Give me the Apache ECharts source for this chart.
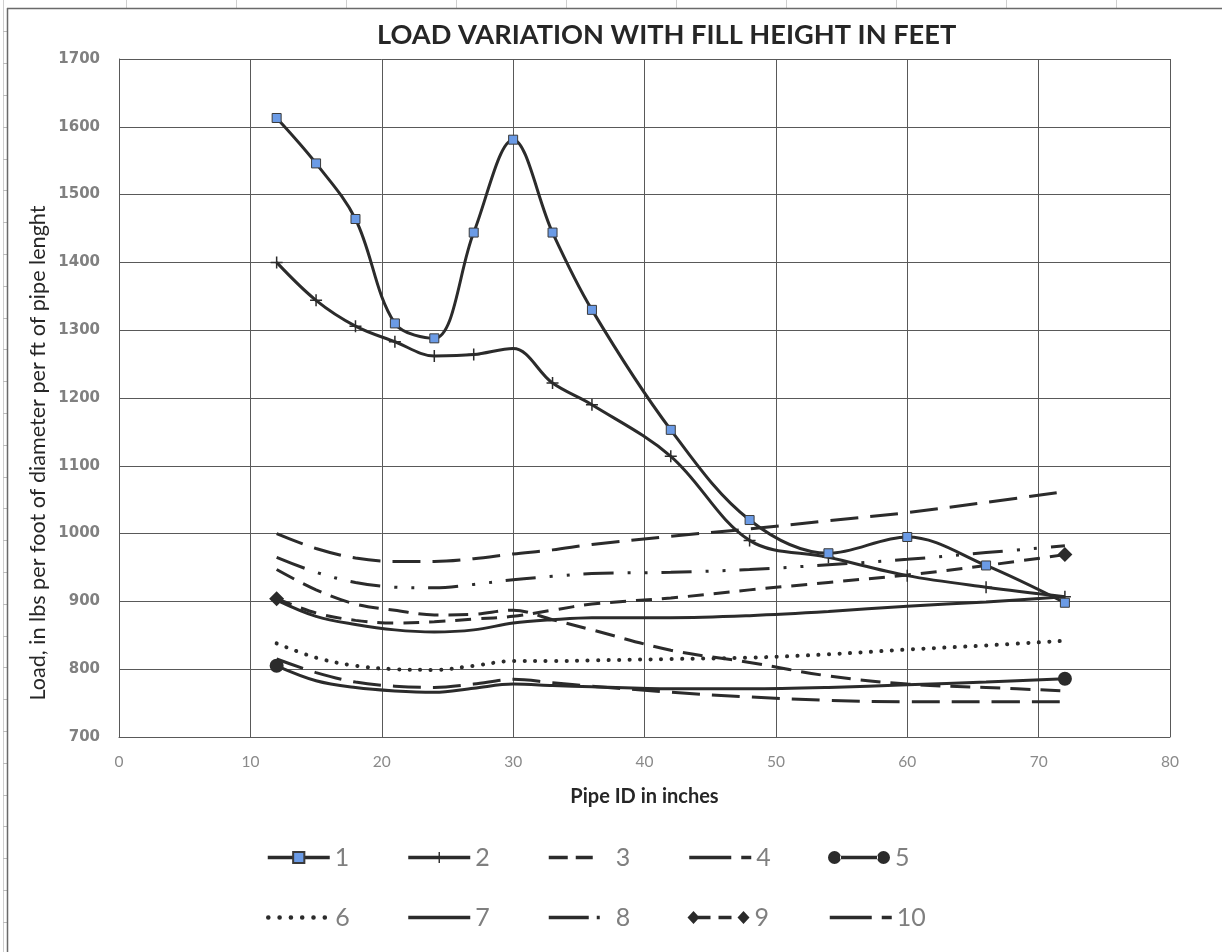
<!DOCTYPE html>
<html>
<head>
<meta charset="utf-8">
<script src="https://cdn.jsdelivr.net/npm/echarts@6/dist/echarts.min.js"></script>
<style>
html,body{margin:0;padding:0;background:#ffffff;}
#chart{width:1222px;height:952px;}
</style>
</head>
<body>
<div id="chart"></div>
<script>
// ---- data ----
const pipeId = [12, 15, 18, 21, 24, 27, 30, 33, 36, 42, 48, 54, 60, 66, 72];
const fill1  = [1613, 1546, 1464, 1310, 1288, 1444, 1581, 1444, 1330, 1153, 1020, 971, 995, 953, 898];
const fill2  = [1400, 1344, 1306, 1283, 1262, 1264, 1273, 1222, 1190, 1114, 990, 965, 938, 921, 907];
const fill3  = [947, 917, 896, 887, 880, 881, 887, 873, 858, 828, 810, 790, 778, 773, 768];
const fill4  = [815, 795, 781, 775, 773, 778, 785, 780, 775, 766, 759, 754, 752, 752, 752];
const fill5  = [805, 783, 773, 768, 766, 772, 778, 776, 774, 771, 771, 773, 777, 781, 786];
const fill6  = [838, 817, 805, 800, 799, 805, 812, 812, 813, 815, 817, 822, 829, 835, 842];
const fill7  = [902, 878, 866, 858, 855, 858, 868, 873, 876, 876, 879, 885, 893, 899, 907];
const fill8  = [965, 943, 928, 921, 920, 925, 932, 937, 941, 943, 947, 954, 962, 972, 982];
const fill9  = [904, 883, 872, 868, 870, 874, 878, 887, 896, 905, 917, 928, 939, 953, 969];
const fill10 = [1000, 978, 964, 959, 959, 963, 970, 976, 984, 996, 1007, 1019, 1031, 1046, 1062];
const seriesNames = ['1', '2', '3', '4', '5', '6', '7', '8', '9', '10'];
const xTicks = [0, 10, 20, 30, 40, 50, 60, 70, 80];
const yTicks = [700, 800, 900, 1000, 1100, 1200, 1300, 1400, 1500, 1600, 1700];
const chartTitle = 'LOAD VARIATION WITH FILL HEIGHT IN FEET';
const xName = 'Pipe ID in inches';
const yName = 'Load, in lbs per foot of diameter per ft of pipe lenght';

// ---- styles ----
const INK = '#2b2b2b';
const PLUS = 'path://M5.25,0h1.5v5.25h5.25v1.5h-5.25v5.25h-1.5v-5.25h-5.25v-1.5h5.25z';
const ICON5 = 'path://M0,7a6.5,6.5 0 1,0 13,0a6.5,6.5 0 1,0 -13,0z M12,5.3h38v3.4h-38z M49,7a6.5,6.5 0 1,0 13,0a6.5,6.5 0 1,0 -13,0z';
const ICON9 = 'path://M0,7L6,0.5L12,7L6,13.5z M10,5.3h13v3.4h-13z M31,5.3h13v3.4h-13z M50,7L56,0.5L62,7L56,13.5z';

const allValues = [fill1, fill2, fill3, fill4, fill5, fill6, fill7, fill8, fill9, fill10];

function pairs(vals, opts) {
  opts = opts || {};
  return vals.map(function (v, i) {
    const item = { value: [pipeId[i], v] };
    if (opts.endsOnly && i !== 0 && i !== vals.length - 1) item.symbol = 'none';
    if (opts.skip && opts.skip.indexOf(i) >= 0) item.symbol = 'none';
    return item;
  });
}

const styleDefs = [
  { symbol: 'rect', symbolSize: 9, itemStyle: { color: '#6b9be6', borderColor: '#3a3a3a', borderWidth: 1 }, line: { type: 'solid' }, lg: 'solid', z: 12 },
  { symbol: PLUS, symbolSize: 12, itemStyle: { color: INK }, line: { type: 'solid' }, lg: 'solid', skip: [6], z: 11 },
  { symbol: 'none', line: { type: [20, 10] }, lg: [19, 8, 17, 40] },
  { symbol: 'none', line: { type: [28, 12] }, lg: [42, 10] },
  { symbol: 'circle', symbolSize: 14, itemStyle: { color: INK }, line: { type: 'solid' }, endsOnly: true, icon: ICON5 },
  { symbol: 'none', line: { type: [0.1, 10.4], cap: 'round', width: 4 }, lg: [0.1, 11.2], cap: 'round', lw: 4.5 },
  { symbol: 'none', line: { type: 'solid' }, lg: 'solid' },
  { symbol: 'none', line: { type: [30, 14, 3, 14, 3, 14] }, lg: [40, 8, 3, 40] },
  { symbol: 'diamond', symbolSize: 15, itemStyle: { color: INK }, line: { type: [16, 10] }, endsOnly: true, icon: ICON9 },
  { symbol: 'none', line: { type: [28, 12] }, lg: [42, 10] }
];

const series = seriesNames.map(function (name, k) {
  const d = styleDefs[k];
  return {
    name: name,
    type: 'line',
    smooth: 0.35,
    data: pairs(allValues[k], { endsOnly: d.endsOnly, skip: d.skip }),
    symbol: d.symbol,
    symbolSize: d.symbolSize || 8,
    showSymbol: d.symbol !== 'none',
    itemStyle: Object.assign({ color: INK }, d.itemStyle || {}),
    lineStyle: Object.assign({ color: INK, width: 3, cap: 'butt' }, d.line),
    emphasis: { disabled: true },
    z: d.z || 3,
    animation: false
  };
});

const legends = seriesNames.map(function (name, k) {
  const d = styleDefs[k];
  const col = k % 5, row = Math.floor(k / 5);
  const item = { name: name };
  if (d.icon) item.icon = d.icon;
  if (d.symbol === 'none') item.itemStyle = { opacity: 0 };
  const lg = {
    data: [item],
    left: 266 + col * 140.5,
    top: row === 0 ? 845 : 905,
    padding: 0,
    itemWidth: 62,
    itemHeight: 14,
    selectedMode: false,
    textStyle: { fontFamily: 'Lato', fontSize: 25, color: '#7f7f7f' }
  };
  if (d.lg) lg.lineStyle = { type: d.lg, width: d.lw || 3.5, cap: d.cap || 'butt', color: INK };
  return lg;
});

// spreadsheet frame around the chart object
const frame = [];
frame.push({ type: 'line', shape: { x1: 3.5, y1: 0, x2: 3.5, y2: 952 }, style: { stroke: '#cfcfcf', lineWidth: 1 } });
for (let y = 731 - 31.8 * 22; y < 952; y += 31.8) {
  frame.push({ type: 'line', shape: { x1: 3, y1: Math.round(y) + 0.5, x2: 7, y2: Math.round(y) + 0.5 }, style: { stroke: '#bdbdbd', lineWidth: 1 } });
}
for (let x = 126.5; x < 1222; x += 110) {
  frame.push({ type: 'line', shape: { x1: x, y1: 0, x2: x, y2: 8 }, style: { stroke: '#cfcfcf', lineWidth: 1 } });
}
frame.push({ type: 'line', shape: { x1: 7.5, y1: 8, x2: 7.5, y2: 952 }, style: { stroke: '#6a6a6a', lineWidth: 1.5 } });
frame.push({ type: 'line', shape: { x1: 7, y1: 8.5, x2: 1222, y2: 8.5 }, style: { stroke: '#6a6a6a', lineWidth: 1.5 } });
// y-axis title (sits lower than the plot centre in the reference)
frame.push({
  type: 'text', x: 38, y: 453, rotation: Math.PI / 2,
  style: { text: yName, fontFamily: 'Lato', fontSize: 21.6, fill: '#262626', align: 'center', verticalAlign: 'middle' }
});

const chart = echarts.init(document.getElementById('chart'), null, { renderer: 'canvas' });
chart.setOption({
  backgroundColor: '#ffffff',
  animation: false,
  title: {
    text: chartTitle,
    left: 377,
    top: 22,
    padding: 0,
    textStyle: { fontFamily: 'Lato', fontWeight: 'bold', fontSize: 27.2, color: '#262626' }
  },
  legend: legends,
  grid: { left: 119, top: 59, width: 1051, height: 678, containLabel: false },
  xAxis: {
    type: 'value',
    min: xTicks[0],
    max: xTicks[xTicks.length - 1],
    interval: xTicks[1] - xTicks[0],
    name: xName,
    nameLocation: 'middle',
    nameGap: 50,
    nameTextStyle: { fontFamily: 'Lato', fontWeight: 'bold', fontSize: 20, color: '#262626' },
    axisLine: { show: true, lineStyle: { color: '#595959', width: 1 } },
    axisTick: { show: false },
    axisLabel: { fontFamily: 'Lato', fontSize: 15.5, color: '#8a8a8a', margin: 17 },
    splitLine: { show: true, lineStyle: { color: '#595959', width: 1 } }
  },
  yAxis: {
    type: 'value',
    min: yTicks[0],
    max: yTicks[yTicks.length - 1],
    interval: yTicks[1] - yTicks[0],
    axisLine: { show: true, lineStyle: { color: '#595959', width: 1 } },
    axisTick: { show: false },
    axisLabel: { fontFamily: 'DejaVu Sans', fontWeight: 'bold', fontSize: 15, color: '#808080', margin: 19,
                 formatter: function (v) { return String(v); } },
    splitLine: { show: true, lineStyle: { color: '#595959', width: 1 } }
  },
  graphic: frame,
  series: series
});
</script>
</body>
</html>
